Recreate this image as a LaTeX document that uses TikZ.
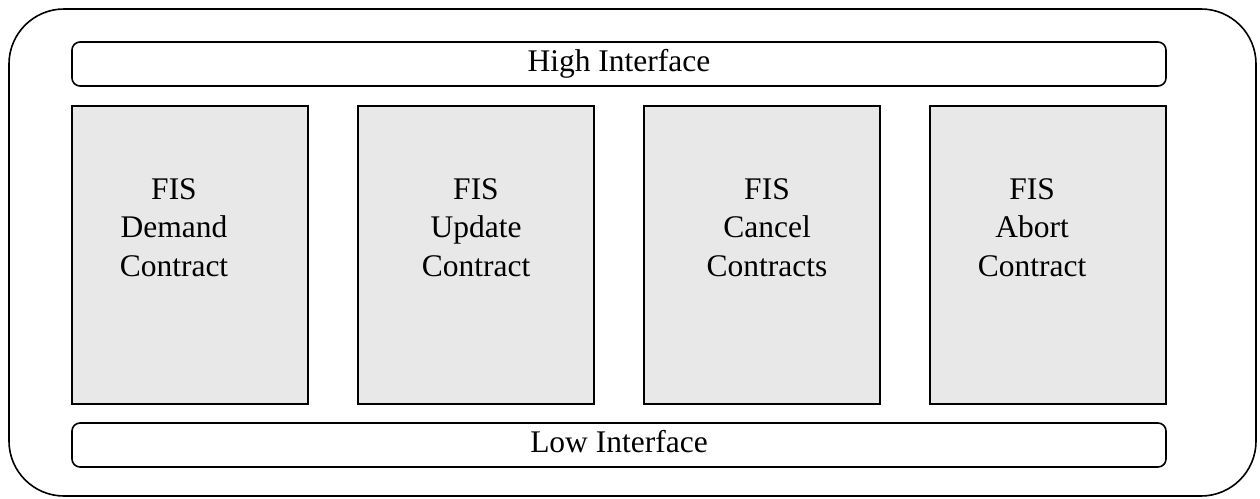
\documentclass[tikz,border=0pt]{standalone}
\usepackage{fontspec}
\setmainfont{Liberation Serif}
\usetikzlibrary{
		positioning
	}
\definecolor{boxgray}{RGB}{232,232,232}
\tikzset{
		frame/.style={draw, line width=1.6pt, rounded corners=55pt},
		iface/.style={draw, line width=1.6pt, rounded corners=8pt, inner sep=0pt,
			minimum width=1094pt, minimum height=44pt,
			text height=21.4pt, text depth=6.9pt, font=\fontsize{31.5}{38.5}\selectfont},
		contract/.style={draw, line width=1.6pt, fill=boxgray, inner sep=0pt, outer sep=0pt,
			minimum width=236pt, minimum height=298pt},
		fistext/.style={align=center, inner sep=0pt, anchor=north,
			font=\fontsize{31.5}{38.5}\selectfont}
	}

\begin{document}
\begin{tikzpicture}[x=1pt, y=-1pt] % one unit = one pixel of the picture, y going down
		\useasboundingbox (0,0) rectangle (1260,498);
		\draw[frame] (9,9) rectangle (1256,496); % the outer frame
		\node[iface] (high) at (619,64) {High Interface};
		\node[iface] (low) at (619,445) {Low Interface};
		% the four contract boxes
		\node[contract] (demand) at (190,255) {};
		\node[contract, right=50pt of demand] (update) {};
		\node[contract, right=50pt of update] (cancel) {};
		\node[contract, right=50pt of cancel] (abort) {};
		\node[fistext] (demandtxt) at ([xshift=-16pt, yshift=-72pt]demand.north) {FIS\\Demand\\Contract};
		\node[fistext] (updatetxt) at ([yshift=-72pt]update.north) {FIS\\Update\\Contract};
		\node[fistext] (canceltxt) at ([xshift=5pt, yshift=-72pt]cancel.north) {FIS\\Cancel\\Contracts};
		\node[fistext] (aborttxt) at ([xshift=-16pt, yshift=-72pt]abort.north) {FIS\\Abort\\Contract};
	\end{tikzpicture}
\end{document}
